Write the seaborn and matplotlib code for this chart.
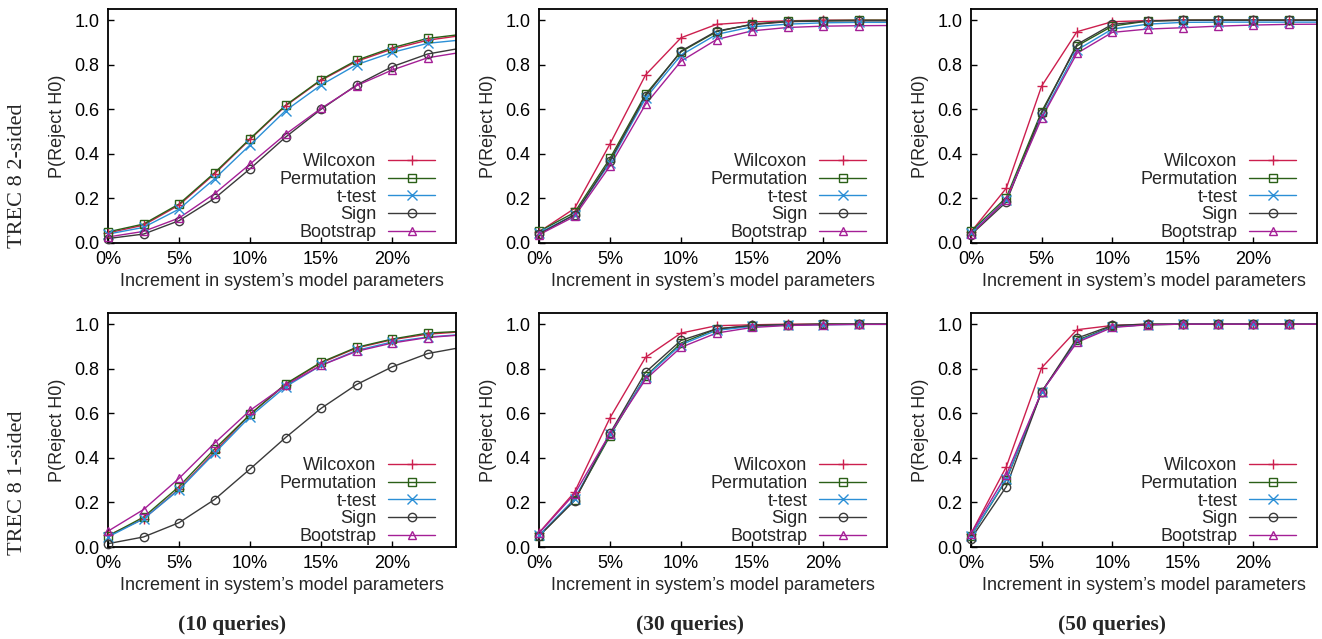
import pandas as pd
import matplotlib
matplotlib.use("Agg")
import matplotlib.pyplot as plt
from matplotlib.lines import Line2D
import seaborn as sns


# Incremento en los parametros del modelo (%)
x_pct = [0, 2.5, 5, 7.5, 10, 12.5, 15, 17.5, 20, 22.5, 25]
tests = ["Wilcoxon", "Permutation", "t-test", "Sign", "Bootstrap"]
colores = {"Wilcoxon": "#cc1f4e", "Permutation": "#2b6018", "t-test": "#2b8fd6",
           "Sign": "#3a3a3a", "Bootstrap": "#a41f96"}
marcas = {"Wilcoxon": "+", "Permutation": "s", "t-test": "x", "Sign": "o", "Bootstrap": "^"}

# TREC 8 2-sided
dos_10 = {
    "Wilcoxon":    [0.045, 0.080, 0.170, 0.310, 0.465, 0.615, 0.730, 0.815, 0.870, 0.910, 0.932],
    "Permutation": [0.050, 0.085, 0.175, 0.315, 0.468, 0.618, 0.733, 0.820, 0.876, 0.918, 0.937],
    "t-test":      [0.040, 0.070, 0.152, 0.288, 0.440, 0.594, 0.709, 0.800, 0.855, 0.896, 0.912],
    "Sign":        [0.020, 0.040, 0.100, 0.200, 0.333, 0.475, 0.600, 0.709, 0.791, 0.848, 0.876],
    "Bootstrap":   [0.027, 0.052, 0.112, 0.221, 0.354, 0.488, 0.604, 0.706, 0.776, 0.831, 0.857],
}
dos_30 = {
    "Wilcoxon":    [0.050, 0.155, 0.445, 0.754, 0.921, 0.981, 0.992, 0.997, 1.000, 1.000, 1.000],
    "Permutation": [0.052, 0.137, 0.380, 0.667, 0.858, 0.948, 0.982, 0.995, 0.998, 1.000, 1.000],
    "t-test":      [0.045, 0.127, 0.361, 0.649, 0.843, 0.936, 0.970, 0.982, 0.988, 0.990, 0.990],
    "Sign":        [0.040, 0.127, 0.369, 0.660, 0.861, 0.951, 0.980, 0.993, 0.996, 0.997, 0.997],
    "Bootstrap":   [0.037, 0.119, 0.346, 0.622, 0.816, 0.913, 0.952, 0.967, 0.973, 0.975, 0.976],
}
dos_50 = {
    "Wilcoxon":    [0.050, 0.246, 0.704, 0.948, 0.993, 0.998, 1.000, 1.000, 1.000, 1.000, 1.000],
    "Permutation": [0.052, 0.204, 0.590, 0.884, 0.973, 0.996, 1.000, 1.000, 1.000, 1.000, 1.000],
    "t-test":      [0.045, 0.194, 0.567, 0.866, 0.960, 0.982, 0.990, 0.991, 0.991, 0.991, 0.991],
    "Sign":        [0.037, 0.184, 0.582, 0.891, 0.981, 0.996, 0.999, 1.000, 1.000, 1.000, 1.000],
    "Bootstrap":   [0.040, 0.194, 0.560, 0.851, 0.945, 0.960, 0.966, 0.973, 0.978, 0.981, 0.982],
}

# TREC 8 1-sided
uno_10 = {
    "Wilcoxon":    [0.052, 0.126, 0.260, 0.427, 0.595, 0.729, 0.826, 0.893, 0.930, 0.955, 0.966],
    "Permutation": [0.049, 0.134, 0.271, 0.439, 0.595, 0.732, 0.829, 0.896, 0.933, 0.960, 0.968],
    "t-test":      [0.045, 0.126, 0.257, 0.421, 0.585, 0.719, 0.815, 0.882, 0.920, 0.942, 0.954],
    "Sign":        [0.015, 0.045, 0.109, 0.213, 0.350, 0.491, 0.622, 0.729, 0.808, 0.868, 0.897],
    "Bootstrap":   [0.071, 0.168, 0.308, 0.466, 0.613, 0.726, 0.815, 0.878, 0.915, 0.940, 0.952],
}
uno_30 = {
    "Wilcoxon":    [0.064, 0.246, 0.580, 0.851, 0.960, 0.993, 0.997, 1.000, 1.000, 1.000, 1.000],
    "Permutation": [0.049, 0.211, 0.499, 0.766, 0.915, 0.978, 0.993, 0.997, 1.000, 1.000, 1.000],
    "t-test":      [0.052, 0.216, 0.506, 0.763, 0.908, 0.972, 0.990, 0.996, 0.997, 0.999, 0.999],
    "Sign":        [0.049, 0.208, 0.510, 0.784, 0.927, 0.979, 0.994, 0.997, 1.000, 1.000, 1.000],
    "Bootstrap":   [0.062, 0.238, 0.509, 0.752, 0.896, 0.960, 0.985, 0.994, 0.997, 0.999, 0.999],
}
uno_50 = {
    "Wilcoxon":    [0.060, 0.360, 0.804, 0.975, 0.994, 1.000, 1.000, 1.000, 1.000, 1.000, 1.000],
    "Permutation": [0.049, 0.301, 0.696, 0.927, 0.990, 0.997, 1.000, 1.000, 1.000, 1.000, 1.000],
    "t-test":      [0.049, 0.305, 0.696, 0.923, 0.987, 0.998, 1.000, 1.000, 1.000, 1.000, 1.000],
    "Sign":        [0.037, 0.271, 0.696, 0.937, 0.994, 1.000, 1.000, 1.000, 1.000, 1.000, 1.000],
    "Bootstrap":   [0.060, 0.324, 0.696, 0.918, 0.985, 0.997, 1.000, 1.000, 1.000, 1.000, 1.000],
}

paneles = [[dos_10, dos_30, dos_50], [uno_10, uno_30, uno_50]]
filas = ["TREC 8 2-sided", "TREC 8 1-sided"]
columnas = ["(10 queries)", "(30 queries)", "(50 queries)"]

sns.set_theme(style="ticks")
plt.rcParams["font.family"] = ["Liberation Sans", "DejaVu Sans"]
plt.rcParams["font.size"] = 13

W, H = 1322, 639
fig = plt.figure(figsize=(W / 100, H / 100), dpi=100)

lefts = [108, 539, 971]
widths = [348, 348, 346]
tops = [9, 313]
alto = 234
fs = 13

for i in range(2):
    for j in range(3):
        ax = fig.add_axes([lefts[j] / W, 1 - (tops[i] + alto) / H, widths[j] / W, alto / H])
        datos = paneles[i][j]
        df = pd.DataFrame([(x, t, v) for t in tests for x, v in zip(x_pct, datos[t])],
                          columns=["inc", "test", "p"])
        sns.lineplot(data=df, x="inc", y="p", hue="test", hue_order=tests, palette=colores,
                     linewidth=1.0, legend=False, ax=ax)
        for t in tests:
            ax.plot(x_pct[:10], datos[t][:10], linestyle="none", marker=marcas[t],
                    markersize=7 if t in ("Wilcoxon", "t-test") else 6,
                    markerfacecolor="none", markeredgecolor=colores[t], markeredgewidth=1.0,
                    clip_on=False, zorder=3)

        ax.set_xlim(0, 24.5)
        ax.set_ylim(0, 1.05)
        ax.set_xticks([0, 5, 10, 15, 20])
        ax.set_xticklabels(["0%", "5%", "10%", "15%", "20%"])
        ax.set_yticks([0, 0.2, 0.4, 0.6, 0.8, 1.0])
        ax.set_yticklabels([f"{v:.1f}" for v in [0, 0.2, 0.4, 0.6, 0.8, 1.0]])
        ax.tick_params(direction="in", length=4, width=1, pad=6, labelsize=fs, colors="black")
        for s in ax.spines.values():
            s.set_visible(True)
            s.set_linewidth(1.3)
            s.set_color("black")
        ax.set_xlabel("Increment in system\u2019s model parameters", fontsize=fs)
        ax.set_ylabel("P(Reject H0)", fontsize=fs)
        ax.xaxis.set_label_coords(0.5, -0.128)
        ax.yaxis.set_label_coords(-0.122, 0.5)

        handles = [Line2D([], [], color=colores[t], linewidth=1.0, marker=marcas[t],
                          markersize=7 if t in ("Wilcoxon", "t-test") else 6,
                          markerfacecolor="none", markeredgewidth=1.0) for t in tests]
        ax.legend(handles, tests, loc="lower right", bbox_to_anchor=(1 - 21 / widths[j], 2 / alto),
                  frameon=False, markerfirst=False, borderpad=0, borderaxespad=0,
                  handlelength=2.6, handletextpad=0.65, labelspacing=0.04, fontsize=fs)

for i, txt in enumerate(filas):
    yc = [176, 483][i]
    fig.text(18 / W, 1 - yc / H, txt, rotation=90, ha="center", va="center",
             family=["Liberation Serif", "DejaVu Serif"], fontsize=16)

for j, txt in enumerate(columnas):
    xc = [232, 690, 1112][j]
    fig.text(xc / W, 1 - 625 / H, txt, ha="center", va="center",
             family=["Liberation Serif", "DejaVu Serif"], fontweight="bold", fontsize=15.5)

fig.savefig("out.png", dpi=100)
